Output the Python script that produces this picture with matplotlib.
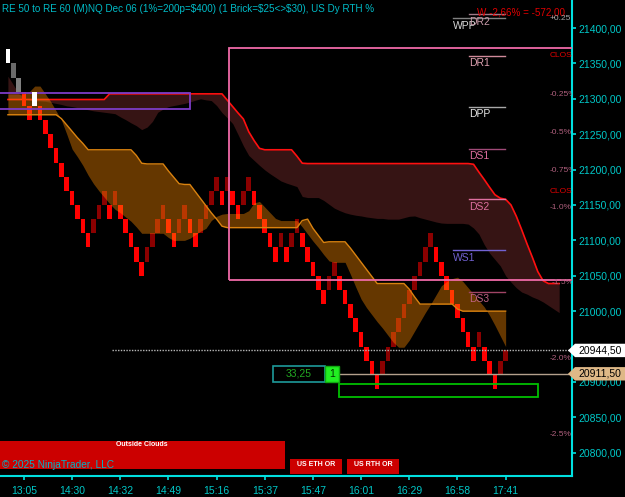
import numpy as np
import matplotlib
matplotlib.use("Agg")
import matplotlib.pyplot as plt
from matplotlib.patches import Rectangle, Polygon
from matplotlib.transforms import blended_transform_factory

plt.rcParams['font.family'] = ['Liberation Sans', 'DejaVu Sans']

# ---------------- data ----------------
title = r"RE 50 to RE 60 (M)NQ Dec 06 (1%=200p=\$400) (1 Brick=\$25<>\$30), US Dy RTH %"

time_labels = ["13:05", "14:30", "14:32", "14:49", "15:16", "15:37",
               "15:47", "16:01", "16:29", "16:58", "17:41"]
time_tick_bars = [3, 12, 21, 30, 39, 48, 57, 66, 75, 84, 93]

brick_size = 20.0
last_close = 20944.5
position_price = 20911.5

brick_low = [21350, 21330, 21310, 21290, 21270, 21290, 21270, 21250, 21230, 21210,
             21190, 21170, 21150, 21130, 21110, 21090, 21110, 21130, 21150, 21130,
             21150, 21130, 21110, 21090, 21070, 21050, 21070, 21090, 21110, 21130,
             21110, 21090, 21110, 21130, 21110, 21090, 21110, 21130, 21150, 21170,
             21150, 21170, 21150, 21130, 21150, 21170, 21150, 21130, 21110, 21090,
             21070, 21090, 21070, 21090, 21110, 21090, 21070, 21050, 21030, 21010,
             21030, 21050, 21030, 21010, 20990, 20970, 20950, 20930, 20910, 20890,
             20910, 20930, 20950, 20970, 20990, 21010, 21030, 21050, 21070, 21090,
             21070, 21050, 21030, 21010, 20990, 20970, 20950, 20930, 20950, 20930,
             20910, 20890, 20910, 20930]
brick_kind = list("wghrrwrrrr" "rrrrrrdddr" "drrrrrdddd" "rrddrrdddd" "rdrrddrrrr"
                  "rdrddrrrrr" "ddrrrrrrrr" "dddddddddd" "rrrrrrrrdr" "rrdd")

# orange cloud (edge line = cloud_a)
cloud_a = ([21277.5] * 10 + [21272, 21263, 21254, 21245, 21237] + [21228] * 9 +
           [21220, 21209] + [21208] * 4 + [21198, 21189, 21180, 21179, 21179] +
           [21169, 21159, 21149, 21139, 21130, 21120] + [21118] * 14 +
           [21128, 21130, 21117, 21107, 21097] + [21098] * 4 +
           [21089, 21079, 21069, 21059, 21049] + [21039] * 6 + [21031, 21020] +
           [21010] * 7 + [21003] + [21000] * 9)
cloud_b = [21307, 21307, 21307, 21307, 21310, 21318, 21318, 21307, 21296, 21283,
           21270, 21250, 21229, 21218, 21206, 21192, 21180, 21170, 21161, 21152,
           21144, 21139, 21133, 21127, 21119, 21110, 21110, 21110, 21110, 21110,
           21104, 21100, 21100, 21100, 21103, 21108, 21113, 21117, 21128, 21134,
           21137, 21138, 21138, 21138, 21138, 21142, 21153, 21155, 21147, 21139,
           21131, 21128, 21128, 21128, 21128, 21119, 21109, 21099, 21090, 21080,
           21071, 21069, 21069, 21069, 21052, 21034, 21017, 21005, 20995, 20985,
           20976, 20966, 20956, 20949, 20949, 20959, 20972, 20985, 20998, 21010,
           21023, 21036, 21042, 21046, 21048, 21042, 21033, 21024, 21015, 21006,
           20994, 20980, 20965, 20950]

# maroon band (red edge line = band_top)
band_top = ([21299] * 19 + [21307] * 22 +
            [21298, 21289, 21280, 21271.5, 21253.5, 21241, 21230] + [21228] * 6 +
            [21219, 21209] + [21208.5] * 31 +
            [21207.5, 21196.5, 21186, 21175, 21164.5, 21159.6, 21158, 21150, 21134,
             21115, 21095, 21076, 21056, 21043] + [21039] * 3)
band_low = [21332, 21320, 21307.5, 21301, 21298, 21297, 21297, 21296.5, 21295, 21293.5,
            21292, 21290, 21289, 21287.5, 21286, 21284.5, 21283, 21282, 21281, 21280,
            21279, 21274.5, 21270.5, 21266, 21262, 21256.5, 21260, 21268, 21281, 21285.5,
            21289, 21290.5, 21292, 21293.5, 21295.5, 21298, 21300, 21298.5, 21297.5, 21290.5,
            21280.5, 21273, 21265, 21249.5, 21233.5, 21220, 21213, 21206, 21199.5, 21194,
            21189, 21184, 21181, 21178.5, 21176, 21162, 21160.5, 21160.5, 21160.5, 21156.5,
            21151, 21145.5, 21142, 21139, 21137, 21135.5, 21134.5, 21133, 21132, 21131,
            21131, 21130, 21130, 21130, 21132, 21134, 21134.5, 21132, 21130, 21128,
            21126, 21124.5, 21124, 21124, 21124, 21124, 21123, 21117.5, 21109, 21094,
            21082, 21073, 21064, 21050, 21041, 21033, 21027, 21024, 21020, 21017,
            21013, 21008, 21003, 20998]

pct_labels = ["+0.25", "CLOS", "-0.25%", "-0.5%", "-0.75%", "CLOS", "-1.0%", "-1.5%", "-2.0%", "-2.5%"]
pct_prices = [21414, 21360.5, 21305.8, 21253, 21199.4, 21169.7, 21147, 21039.8, 20932.8, 20826.4]

pivot_names = ["WPP", "DR2", "DR1", "DPP", "DS1", "DS2", "WS1", "DS3"]
pivot_prices = [21413.7, 21419.8, 21360.5, 21288.8, 21229.5, 21158, 21086, 21027.5]

weekly_text = "W -2,66% = -572,00"
order_qty = "33,25"

# ---------------- layout ----------------
W, H = 625, 497
fig = plt.figure(figsize=(W / 100, H / 100), dpi=100)
fig.patch.set_facecolor('black')
AX_R, AX_B = 572, 476
ax = fig.add_axes([0, (H - AX_B) / H, AX_R / W, AX_B / H])
ax.set_facecolor('black')
X0, X1 = -1.476, 105.4
Y0, Y1 = 20767.1, 21439.6
ax.set_xlim(X0, X1)
ax.set_ylim(Y0, Y1)
PX = (AX_B) / (Y1 - Y0)          # pixels per price point
def bar_at(px):                 # pixel x -> bar coordinate
    return X0 + px / AX_R * (X1 - X0)
def dp(pix):                    # pixel height -> price height
    return pix / PX

# maroon band
xb = np.arange(len(band_top))
ax.fill_between(xb, band_top, band_low, color='#361414', lw=0, zorder=1)
ax.plot(xb, band_top, color='#ff1010', lw=1.2, zorder=2)

# renko bricks
cmap = {'w': '#ffffff', 'g': '#6a6a6a', 'h': '#808080', 'r': '#ff0000', 'd': '#8b0000'}
n = len(brick_low)
for i, (lo, k) in enumerate(zip(brick_low, brick_kind)):
    hi = last_close if i == n - 1 else lo + brick_size
    ax.bar(i, hi - lo, bottom=lo, width=0.86, color=cmap[k], lw=0,
           zorder=6 if k in 'wgh' else 3)

# orange cloud
xa = np.arange(len(cloud_a))
ax.fill_between(xa, cloud_a, cloud_b, color='#ff8c00', alpha=0.4, lw=0, zorder=4)
ax.plot(xa, cloud_a, color='#d9820f', lw=1.0, zorder=4.5)

# rectangles
ax.add_patch(Rectangle((bar_at(229), 21044), 80, 21371.4 - 21044, fill=False,
                       edgecolor='#f06aa8', lw=1.3, zorder=5))
ax.add_patch(Rectangle((-5, 21285.2), bar_at(190) + 5, 21308.6 - 21285.2, fill=False,
                       edgecolor='#7d3cc8', lw=1.3, zorder=5))
ax.add_patch(Rectangle((bar_at(339), 20879.1), bar_at(538) - bar_at(339), 20896.6 - 20879.1,
                       fill=False, edgecolor='#00c000', lw=1.3, zorder=5))

# price lines
ax.plot([bar_at(112), X1], [last_close, last_close], color='#b8b8b8', lw=1.0,
        ls=(0, (1, 1)), zorder=5)
ax.plot([bar_at(339), X1], [position_price, position_price], color='#b4a08c', lw=1.0, zorder=5)

# order box
ax.add_patch(Rectangle((bar_at(273.3), 20899.9), bar_at(325) - bar_at(273.3), 20922.9 - 20899.9,
                       facecolor='black', edgecolor='#1e9a9a', lw=1.2, zorder=7))
ax.add_patch(Rectangle((bar_at(325), 20899.9), bar_at(339) - bar_at(325), 20922.9 - 20899.9,
                       facecolor='#22ee22', edgecolor='#11aa11', lw=1.0, zorder=7))
ax.text((bar_at(273.3) + bar_at(325)) / 2, 20911.4, order_qty, color='#22a822', fontsize=7.5,
        ha='center', va='center', zorder=8)
ax.text((bar_at(325) + bar_at(339)) / 2, 20911.4, "1", color='#003300', fontsize=7.5,
        ha='center', va='center', zorder=8)

# pivots
piv_style = {
    "WPP": (453, '#d8d8d8', '#808080'),
    "DR2": (469, '#c89aa8', '#a07a88'),
    "DR1": (469, '#e0a2b2', '#d08a9a'),
    "DPP": (469, '#e8e8e8', '#a8a8a8'),
    "DS1": (469, '#e070a0', '#a04a78'),
    "DS2": (469, '#e070a0', '#e070a0'),
    "WS1": (453, '#7262d2', '#7262d2'),
    "DS3": (469, '#c06284', '#a04466'),
}
for name, price in zip(pivot_names, pivot_prices):
    xs, tc, lc = piv_style[name]
    ax.plot([bar_at(xs), bar_at(505)], [price, price], color=lc, lw=1.0, zorder=6)
    ax.text(bar_at(xs), price - dp(2.5), name, color=tc, fontsize=7.5, ha='left', va='top',
            zorder=6)
ax.text(bar_at(477), 21422.6, weekly_text, color='#e00000', fontsize=7.1, ha='left',
        va='center', zorder=7)

# percentage labels (clipped by the axes edge)
for lab, price in zip(pct_labels, pct_prices):
    if lab == "CLOS":
        c = '#e00000'
    elif lab.startswith('+'):
        c = '#a8a8a8'
    else:
        c = '#b0607e'
    ax.text(bar_at(552 if lab == "-1.5%" else 549.5), price, lab, color=c, fontsize=6,
            ha='left', va='center', clip_on=True, zorder=7)

# axes styling
for s in ['left', 'top']:
    ax.spines[s].set_visible(False)
for s in ['right', 'bottom']:
    ax.spines[s].set_color('#00e0e0')
    ax.spines[s].set_linewidth(1.5)
ax.yaxis.tick_right()
yt = list(range(20800, 21401, 50))
ax.set_yticks(yt)
# the 20950 label sits fully under the last-price marker
ax.set_yticklabels(["" if v == 20950 else f"{v:.2f}".replace('.', ',') for v in yt])
ax.set_xticks(time_tick_bars)
ax.set_xticklabels(time_labels)
ax.tick_params(axis='y', colors='#00e0e0', labelcolor='#00c8c8', length=3, width=1.2,
               pad=1.5, labelsize=7.5)
ax.tick_params(axis='x', colors='#00e0e0', labelcolor='#00c8c8', length=3, width=1.2,
               pad=4, labelsize=7.5)

# right-side price markers
bt = blended_transform_factory(fig.transFigure, ax.transData)
for price, fc in [(last_close, '#ffffff'), (position_price, '#deb887')]:
    h = dp(6.7)
    pts = [(568 / W, price), (575 / W, price + h), (1.0, price + h), (1.0, price - h),
           (575 / W, price - h)]
    ax.add_patch(Polygon(pts, closed=True, facecolor=fc, edgecolor='none',
                         transform=bt, clip_on=False, zorder=20))
    ax.text(578 / W, price, f"{price:.2f}".replace('.', ','), color='black', fontsize=7.5,
            ha='left', va='center', transform=bt, clip_on=False, zorder=21)

# ---------------- overlay (pixel placed UI) ----------------
def frect(x0, y0, x1, y1, **kw):
    fig.patches.append(Rectangle((x0 / W, 1 - y1 / H), (x1 - x0) / W, (y1 - y0) / H,
                                 transform=fig.transFigure, figure=fig, **kw))
def ftext(x, y, s, **kw):
    fig.text(x / W, 1 - y / H, s, **kw)

ftext(2, 9, title, ha='left', va='center', color='#00bcc8', fontsize=7.15)
frect(0, 440.7, 285, 469.3, facecolor='#cc0000', edgecolor='none')
ftext(142, 445, "Outside Clouds", ha='center', va='center', color='white',
      fontsize=5, fontweight='bold')
ftext(2, 465, "© 2025 NinjaTrader, LLC", ha='left', va='center', color='#00b4c8', fontsize=7.3)
frect(290.3, 459.3, 341.7, 474, facecolor='#cc0000', edgecolor='none')
frect(347, 459.3, 399.3, 474, facecolor='#cc0000', edgecolor='none')
ftext(316, 464.5, "US ETH OR", ha='center', va='center', color='white', fontsize=5,
      fontweight='bold')
ftext(373, 464.5, "US RTH OR", ha='center', va='center', color='white', fontsize=5,
      fontweight='bold')

fig.savefig("out.png", dpi=100, facecolor='black')
